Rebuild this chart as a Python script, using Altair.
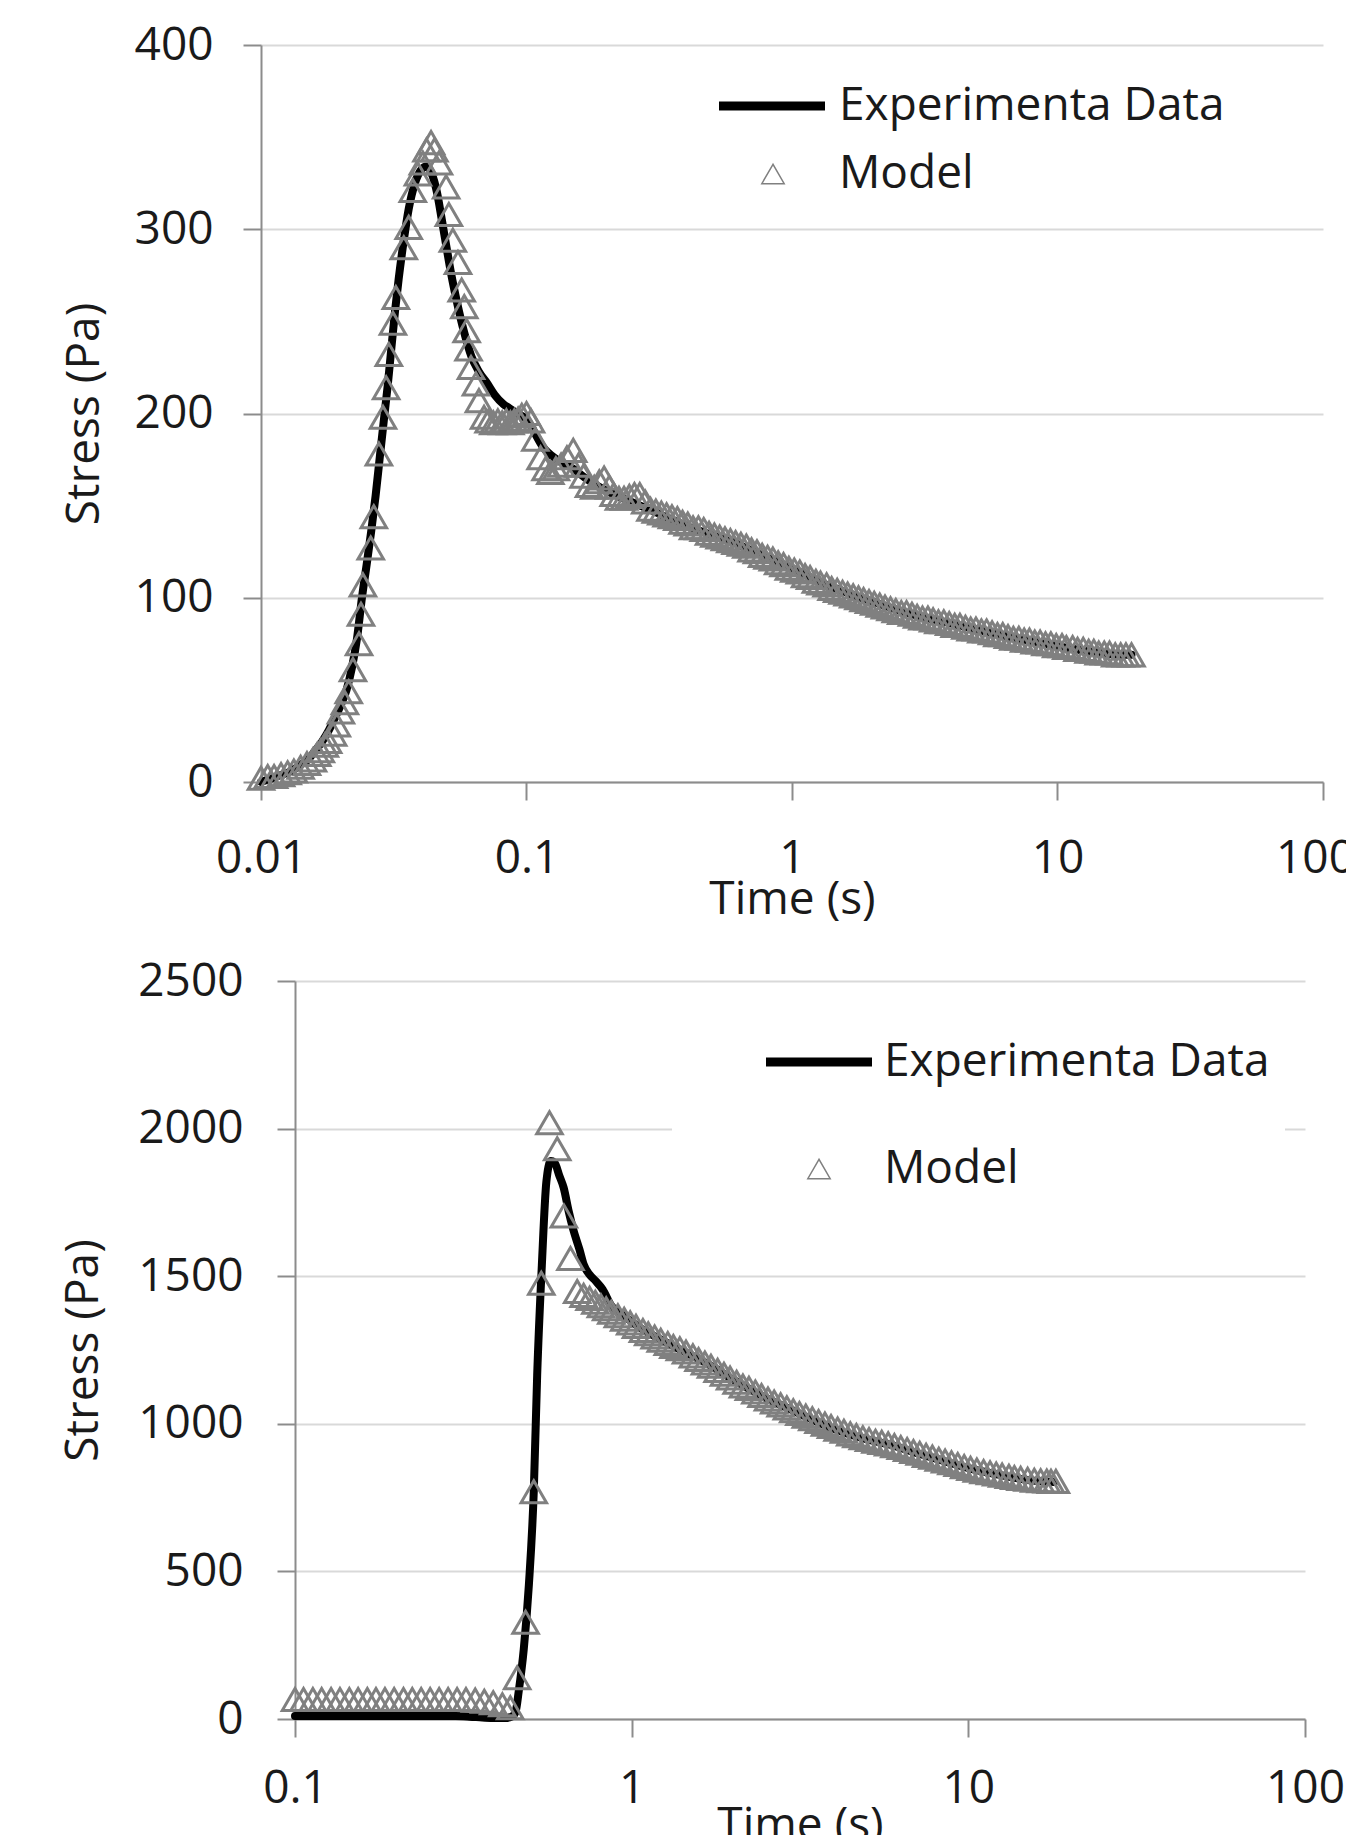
import altair as alt
import pandas as pd

FONT = "Open Sans"
TXT = "#1a1a1a"
AXC = "#8c8c8c"
GRID = "#d9d9d9"
GRAY = "#808080"
FS = 46
NBSP = "\u00a0"

# ---------------- top panel ----------------
top_exp_t = [0.0100, 0.0110, 0.0120, 0.0130, 0.0140, 0.0150, 0.0160, 0.0170, 0.0180, 0.0190,
             0.0200, 0.0210, 0.0220, 0.0230, 0.0240, 0.0250, 0.0260, 0.0270, 0.0280, 0.0290,
             0.0300, 0.0310, 0.0320, 0.0330, 0.0345, 0.0360, 0.0380, 0.0400, 0.0420, 0.0440,
             0.0460, 0.0480, 0.0500, 0.0520, 0.0550, 0.0580, 0.0620, 0.0660, 0.0714, 0.0760,
             0.0820, 0.0860, 0.0920, 0.1000, 0.1050, 0.1150, 0.1300, 0.1500, 0.1700, 0.2000,
             0.2400, 0.3000, 0.4000, 0.5000, 0.6000, 0.8000, 1.000, 1.300, 2.000, 3.000,
             4.000, 6.000, 9.000, 13.00, 18.00, 19.00]
top_exp_s = [0, 2, 4, 6, 9, 12, 17, 22, 28, 35,
             42, 50, 62, 78, 100, 118, 136, 155, 176, 196,
             215, 236, 256, 273, 294, 311, 325, 332, 334, 330,
             320, 305, 290, 276, 259, 245, 231, 223, 216, 210,
             205, 203, 200, 197, 192, 182, 175, 170, 164, 158,
             153, 147, 139, 134, 130, 122, 116, 108, 98, 90,
             86, 80, 75, 71, 69, 69]

top_mod_t = [0.0100, 0.0106, 0.0112, 0.0119, 0.0126, 0.0133, 0.0141, 0.0149, 0.0157, 0.0163,
             0.0168, 0.0174, 0.0179, 0.0187, 0.0193, 0.0200, 0.0207, 0.0214, 0.0222, 0.0234,
             0.0238, 0.0242, 0.0259, 0.0266, 0.0278, 0.0288, 0.0296, 0.0303, 0.0314, 0.0322,
             0.0345, 0.0360, 0.0373, 0.0390, 0.0407, 0.0420, 0.0437, 0.0450, 0.0468, 0.0498,
             0.0510, 0.0528, 0.0552, 0.0570, 0.0583, 0.0595, 0.0605, 0.0618, 0.0645, 0.0662,
             0.0692, 0.0720, 0.0750, 0.0780, 0.0810, 0.0840, 0.0870, 0.0900, 0.0930, 0.0960,
             0.1000, 0.1040, 0.1080, 0.1130, 0.1180, 0.1230, 0.1290, 0.1350, 0.1420, 0.1500,
             0.1570, 0.1640, 0.1720, 0.1800, 0.1880, 0.1960, 0.2050, 0.2130, 0.2230, 0.2330,
             0.2440, 0.2550, 0.2670, 0.2800, 0.2930, 0.3070, 0.3220, 0.3370, 0.3530, 0.3700,
             0.3870, 0.4050, 0.4240, 0.4440, 0.4650, 0.4870, 0.5100, 0.5340, 0.5590, 0.5860,
             0.6130, 0.6420, 0.6730, 0.7040, 0.7380, 0.7720, 0.8090, 0.8470, 0.8870, 0.9290,
             0.9730, 1.020, 1.070, 1.120, 1.170, 1.230, 1.280, 1.350, 1.410, 1.480,
             1.550, 1.620, 1.700, 1.780, 1.860, 1.950, 2.040, 2.140, 2.240, 2.350,
             2.460, 2.580, 2.700, 2.830, 2.960, 3.100, 3.250, 3.400, 3.560, 3.730,
             3.910, 4.100, 4.290, 4.500, 4.710, 4.930, 5.170, 5.410, 5.670, 5.940,
             6.220, 6.510, 6.820, 7.150, 7.490, 7.840, 8.210, 8.600, 9.010, 9.440,
             9.890, 10.40, 10.80, 11.40, 11.90, 12.50, 13.10, 13.70, 14.30, 15.00,
             15.70, 16.50, 17.30, 18.10, 19.00]
top_mod_s = [2, 3, 3, 4, 5, 6, 8, 10, 12, 15,
             17, 20, 22, 26, 31, 38, 43, 49, 61, 75,
             91, 107, 127, 144, 178, 198, 214, 232, 249, 263,
             290, 301, 321, 330, 336, 343, 347, 343, 336, 323,
             308, 294, 282, 267, 258, 245, 235, 225, 216, 207,
             198, 196, 195, 196, 195, 196, 195, 196, 197, 199,
             200, 196, 186, 176, 170, 168, 170, 172, 176, 180,
             172, 166, 161, 160, 163, 165, 160, 156, 154, 154,
             155, 156, 156, 152, 148, 147, 146, 145, 144, 143,
             141, 140, 138, 138, 137, 135, 134, 133, 132, 131,
             130, 129, 128, 126, 125, 123, 122, 121, 119, 118,
             116, 115, 114, 112, 111, 109, 108, 107, 105, 104,
             103, 102, 101, 100, 99, 98, 97, 96, 95, 94,
             93, 92, 92, 91, 90, 89, 89, 88, 87, 87,
             86, 85, 85, 84, 83, 83, 82, 82, 81, 80,
             80, 79, 78, 78, 77, 77, 76, 76, 75, 75,
             74, 74, 73, 73, 72, 72, 71, 71, 70, 70,
             70, 69, 69, 69, 69]

# ---------------- bottom panel ----------------
bot_exp_t = [0.100, 0.150, 0.200, 0.250, 0.300, 0.330, 0.360, 0.390, 0.420, 0.440,
             0.452, 0.462, 0.478, 0.495, 0.512, 0.524, 0.541, 0.558, 0.575, 0.590,
             0.610, 0.628, 0.650, 0.670, 0.700, 0.720, 0.750, 0.780, 0.820, 0.870,
             0.950, 1.05, 1.20, 1.40, 1.70, 2.00, 2.50, 3.00, 3.50, 4.00,
             5.00, 6.00, 7.00, 8.00, 10.0, 12.0, 14.0, 16.0, 18.0]
bot_exp_s = [10, 10, 10, 10, 10, 8, 5, 3, 3, 8,
             24, 95, 236, 453, 773, 1165, 1537, 1820, 1890, 1885,
             1840, 1800, 1720, 1660, 1590, 1540, 1505, 1485, 1455, 1400,
             1365, 1328, 1290, 1250, 1200, 1150, 1088, 1046, 1010, 982,
             947, 926, 901, 882, 850, 830, 815, 806, 803]

bot_mod_t = [0.100, 0.106, 0.113, 0.120, 0.128, 0.136, 0.145, 0.154, 0.164, 0.174,
             0.185, 0.197, 0.210, 0.223, 0.237, 0.252, 0.268, 0.285, 0.303, 0.322,
             0.343, 0.365, 0.388, 0.413, 0.436, 0.457, 0.484, 0.512, 0.539, 0.570,
             0.601, 0.629, 0.658, 0.689, 0.720, 0.750, 0.780, 0.810, 0.840, 0.870,
             0.910, 0.950, 0.990, 1.030, 1.080, 1.120, 1.170, 1.220, 1.280, 1.330,
             1.390, 1.450, 1.520, 1.580, 1.650, 1.720, 1.800, 1.880, 1.960, 2.050,
             2.140, 2.230, 2.330, 2.430, 2.540, 2.650, 2.770, 2.890, 3.020, 3.150,
             3.290, 3.440, 3.590, 3.750, 3.910, 4.090, 4.270, 4.460, 4.650, 4.860,
             5.070, 5.300, 5.530, 5.780, 6.030, 6.300, 6.580, 6.870, 7.170, 7.490,
             7.820, 8.170, 8.530, 8.910, 9.300, 9.720, 10.15, 10.60, 11.10, 11.60,
             12.10, 12.60, 13.20, 13.70, 14.30, 15.00, 15.70, 16.40, 17.10, 17.60,
             18.20]
bot_mod_s = [66, 66, 66, 66, 66, 66, 66, 66, 66, 66,
             66, 66, 66, 66, 66, 66, 66, 66, 66, 66,
             64, 60, 55, 48, 38, 140, 328, 770, 1476, 2020,
             1932, 1704, 1560, 1448, 1435, 1425, 1412, 1400, 1390, 1378,
             1366, 1354, 1342, 1330, 1316, 1305, 1294, 1283, 1272, 1262,
             1254, 1243, 1230, 1218, 1206, 1195, 1181, 1168, 1155, 1141,
             1128, 1120, 1108, 1096, 1084, 1074, 1064, 1054, 1044, 1035,
             1026, 1017, 1008, 999, 991, 982, 975, 966, 960, 953,
             947, 941, 937, 932, 926, 920, 913, 906, 900, 893,
             887, 880, 874, 868, 862, 855, 849, 843, 838, 834,
             830, 826, 822, 818, 815, 812, 809, 807, 806, 805,
             805]

EXP_NAME = "Experimenta Data"
MOD_NAME = "Model"


def panel(exp_t, exp_s, mod_t, mod_s, xdom, xvals, ydom, yvals, w, h, xrange,
          y_off, y_lab_pad, x_lab_pad, y_title_x, x_title_y, exp_leg, mod_leg,
          x_lab_off=0):
    df_exp = pd.DataFrame({"t": exp_t, "s": exp_s, "exp": EXP_NAME})
    df_mod = pd.DataFrame({"t": mod_t, "s": mod_s, "mod": MOD_NAME})

    x_axis = alt.Axis(values=xvals, format="~g", labelFlush=False, grid=False,
                      domainColor=AXC, domainWidth=2, tickColor=AXC, tickWidth=2,
                      tickSize=18, labelFont=FONT, labelFontSize=FS, labelColor=TXT,
                      labelPadding=x_lab_pad, labelOverlap=False,
                      labelOffset=x_lab_off,
                      title="Time (s)", titleFont=FONT, titleFontSize=FS,
                      titleFontWeight="normal", titleColor=TXT,
                      titleX=(xrange[0] + xrange[1]) / 2, titleY=x_title_y,
                      titleBaseline="alphabetic", titleAlign="center")
    y_axis = alt.Axis(values=yvals, format="d", grid=True, gridColor=GRID, gridWidth=2,
                      domainColor=AXC, domainWidth=2, tickColor=AXC, tickWidth=2,
                      tickSize=18, labelFont=FONT, labelFontSize=FS, labelColor=TXT,
                      labelPadding=y_lab_pad, offset=y_off,
                      title="Stress (Pa)", titleFont=FONT, titleFontSize=FS,
                      titleFontWeight="normal", titleColor=TXT,
                      titleX=y_title_x, titleY=h / 2, titleBaseline="alphabetic",
                      titleAlign="center")

    xs = alt.Scale(type="log", domain=xdom, nice=False, range=xrange)
    ys = alt.Scale(domain=ydom, nice=False, zero=False)

    line = alt.Chart(df_exp).mark_line(
        color="#000000", strokeWidth=8, interpolate="monotone", strokeCap="round"
    ).encode(
        x=alt.X("t:Q", scale=xs, axis=x_axis),
        y=alt.Y("s:Q", scale=ys, axis=y_axis),
        color=alt.Color("exp:N", scale=alt.Scale(domain=[EXP_NAME], range=["#000000"]),
                        legend=alt.Legend(orient="none",
                                          symbolType="stroke", symbolSize=11236,
                                          symbolStrokeWidth=9,
                                          labelFont=FONT, labelFontSize=FS,
                                          labelColor=TXT, labelLimit=900,
                                          **exp_leg)),
    )
    pts = alt.Chart(df_mod).mark_point(
        filled=False, color=GRAY, strokeWidth=3, size=650, opacity=1
    ).encode(
        x=alt.X("t:Q", scale=xs),
        y=alt.Y("s:Q", scale=ys),
        shape=alt.Shape("mod:N", scale=alt.Scale(domain=[MOD_NAME], range=["triangle-up"]),
                        legend=alt.Legend(title=None, orient="none",
                                          symbolSize=500, symbolStrokeWidth=1.5,
                                          symbolStrokeColor=GRAY, symbolFillColor="white",
                                          labelFont=FONT, labelFontSize=FS,
                                          labelColor=TXT, labelLimit=900,
                                          **mod_leg)),
    )
    return alt.layer(line, pts).properties(width=w, height=h)


# the last top tick label is nudged a few pixels left so it stays inside the page
top = panel(top_exp_t, top_exp_s, top_mod_t, top_mod_s,
            [0.01, 100], [0.01, 0.1, 1, 10, 100], [0, 400], [0, 100, 200, 300, 400],
            1062, 737, [0, 1062], 0, 30, 36, -163, 131,
            dict(title=None, legendX=453.5, legendY=3.5, labelOffset=9.5, padding=0),
            dict(legendX=489, legendY=106, labelOffset=43, padding=0),
            x_lab_off={"condition": {"test": "datum.value >= 100", "value": -8}, "value": 0})

# bottom panel shares the left origin with the top one; its data area starts 34 px in.
# Its legend box is white and hides the right part of the 2000 gridline, as in the original.
bottom = panel(bot_exp_t, bot_exp_s, bot_mod_t, bot_mod_s,
               [0.1, 100], [0.1, 1, 10, 100], [0, 2500], [0, 500, 1000, 1500, 2000, 2500],
               1044, 738, [34, 1044], -34, 34, 29, -198, 120.5,
               dict(title=NBSP, titleOrient="bottom", titleFontSize=100, titlePadding=5,
                    legendX=411, legendY=8.5, labelOffset=7.5, symbolOffset=74.5,
                    padding=15, fillColor="white"),
               dict(legendX=535, legendY=165, labelOffset=42, padding=0))

chart = alt.concat(
    top, bottom, columns=1, spacing=36,
    padding={"left": 52, "top": 14, "right": -9, "bottom": -14.5},
    background="white",
).resolve_scale(
    color="independent", shape="independent"
).resolve_legend(
    color="independent", shape="independent"
).configure_view(stroke=None)

chart.save("out.html", embed_options={"renderer": "svg", "actions": False})
